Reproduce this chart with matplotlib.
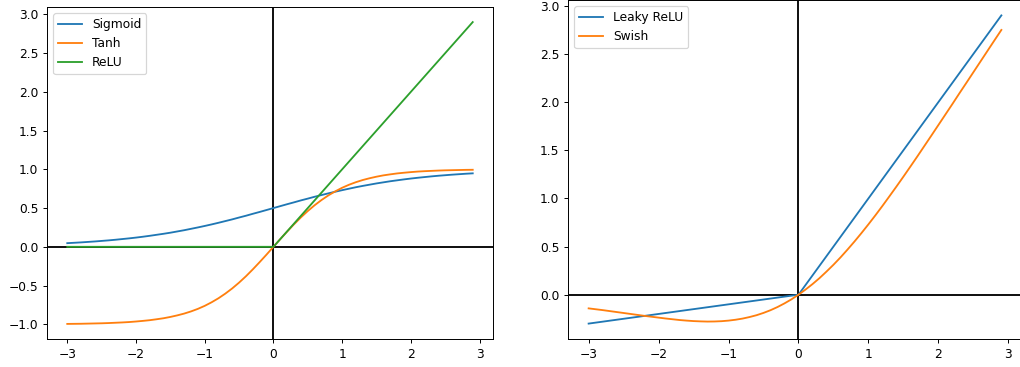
import matplotlib
matplotlib.use("Agg")
import matplotlib.pyplot as plt

# x grid (step 0.1, -3.0 .. 2.9)
x = [-3.0, -2.9, -2.8, -2.7, -2.6, -2.5, -2.4, -2.3, -2.2, -2.1,
     -2.0, -1.9, -1.8, -1.7, -1.6, -1.5, -1.4, -1.3, -1.2, -1.1,
     -1.0, -0.9, -0.8, -0.7, -0.6, -0.5, -0.4, -0.3, -0.2, -0.1,
     0.0, 0.1, 0.2, 0.3, 0.4, 0.5, 0.6, 0.7, 0.8, 0.9,
     1.0, 1.1, 1.2, 1.3, 1.4, 1.5, 1.6, 1.7, 1.8, 1.9,
     2.0, 2.1, 2.2, 2.3, 2.4, 2.5, 2.6, 2.7, 2.8, 2.9]

sigmoid = [0.047, 0.052, 0.057, 0.063, 0.069, 0.076, 0.083, 0.091, 0.100, 0.109,
           0.119, 0.130, 0.142, 0.155, 0.168, 0.182, 0.198, 0.214, 0.232, 0.250,
           0.269, 0.289, 0.310, 0.332, 0.354, 0.378, 0.401, 0.426, 0.450, 0.475,
           0.500, 0.525, 0.550, 0.574, 0.599, 0.622, 0.646, 0.668, 0.690, 0.711,
           0.731, 0.750, 0.769, 0.786, 0.802, 0.818, 0.832, 0.846, 0.858, 0.870,
           0.881, 0.891, 0.900, 0.909, 0.917, 0.924, 0.931, 0.937, 0.943, 0.948]

tanh = [-0.995, -0.994, -0.993, -0.991, -0.989, -0.987, -0.984, -0.980, -0.976, -0.971,
        -0.964, -0.956, -0.947, -0.935, -0.922, -0.905, -0.885, -0.862, -0.834, -0.801,
        -0.762, -0.716, -0.664, -0.604, -0.537, -0.462, -0.380, -0.291, -0.197, -0.100,
        0.000, 0.100, 0.197, 0.291, 0.380, 0.462, 0.537, 0.604, 0.664, 0.716,
        0.762, 0.801, 0.834, 0.862, 0.885, 0.905, 0.922, 0.935, 0.947, 0.956,
        0.964, 0.971, 0.976, 0.980, 0.984, 0.987, 0.989, 0.991, 0.993, 0.994]

swish = [-0.142, -0.151, -0.160, -0.170, -0.180, -0.190, -0.200, -0.210, -0.220, -0.229,
         -0.238, -0.247, -0.255, -0.263, -0.269, -0.274, -0.277, -0.279, -0.278, -0.275,
         -0.269, -0.260, -0.248, -0.232, -0.213, -0.189, -0.161, -0.128, -0.090, -0.048,
         0.000, 0.053, 0.110, 0.172, 0.240, 0.311, 0.387, 0.468, 0.552, 0.640,
         0.731, 0.825, 0.922, 1.022, 1.123, 1.226, 1.331, 1.437, 1.545, 1.653,
         1.762, 1.871, 1.980, 2.091, 2.200, 2.310, 2.420, 2.530, 2.640, 2.749]

relu_x = [-3.0, 0.0, 2.9]
relu = [0.0, 0.0, 2.9]
leaky_x = [-3.0, 0.0, 2.9]
leaky = [-0.3, 0.0, 2.9]

W, H = 1020, 367
DPI = 88
fig = plt.figure(figsize=(W / DPI, H / DPI), dpi=DPI)

ax1 = fig.add_axes([47 / W, 28 / H, 446 / W, 332 / H])
ax1.axhline(0, color='k')
ax1.axvline(0, color='k')
ax1.plot(x, sigmoid, label='Sigmoid')
ax1.plot(x, tanh, label='Tanh')
ax1.plot(relu_x, relu, label='ReLU')
ax1.legend(loc='upper left')

ax2 = fig.add_axes([568 / W, 28 / H, 454 / W, 339 / H])
ax2.axhline(0, color='k')
ax2.axvline(0, color='k')
ax2.plot(leaky_x, leaky, label='Leaky ReLU')
ax2.plot(x, swish, label='Swish')
ax2.legend(loc='upper left')

fig.savefig('out.png', dpi=DPI)
